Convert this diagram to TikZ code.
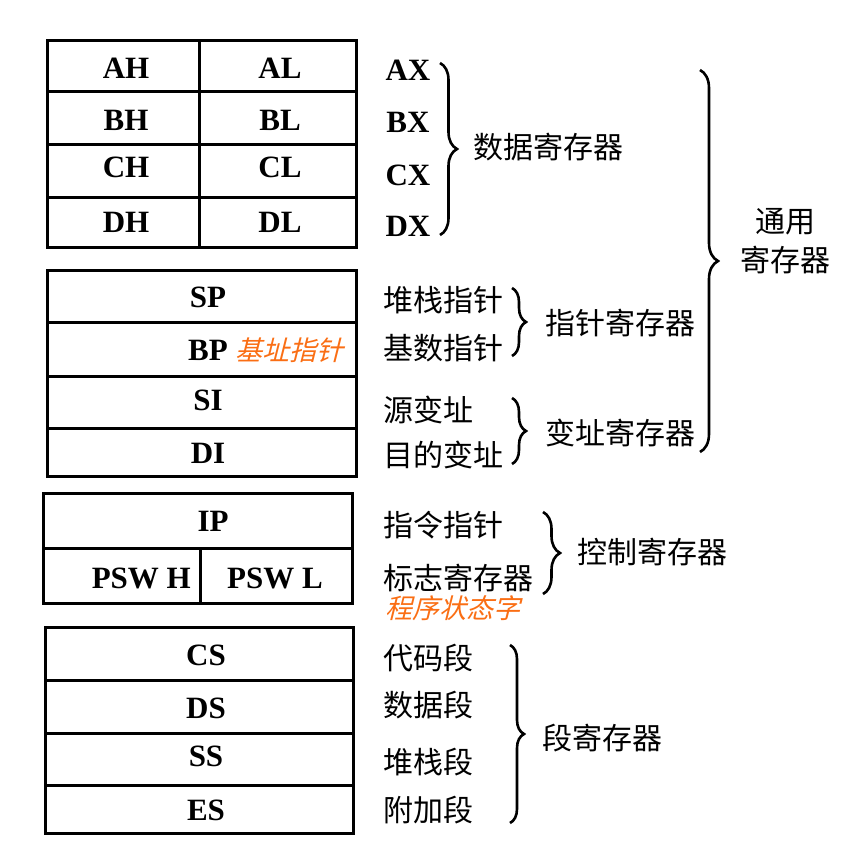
\documentclass[tikz,border=0pt]{standalone}
\usepackage{fontspec}
\setmainfont{Liberation Serif}
\newfontfamily\cjk{Noto Sans CJK SC}
\newfontfamily\cjkit{Noto Sans CJK SC}[FakeSlant=0.25]
\usetikzlibrary{decorations.pathreplacing}
\definecolor{noteorange}{RGB}{250,110,20}

\begin{document}
\begin{tikzpicture}[x=1pt, y=-1pt,
  reg/.style={font=\fontsize{31}{31}\selectfont\bfseries, inner sep=0pt},
  cn/.style={font=\cjk\fontsize{30}{30}\selectfont, inner sep=0pt},
  note/.style={font=\cjkit\fontsize{27}{27}\selectfont, text=noteorange, inner sep=0pt},
  box/.style={line width=3pt},
  curly/.style={decorate, decoration={brace, amplitude=#1}, line width=2.6pt},
  curly/.default=14pt]

\useasboundingbox (0,0) rectangle (852,865);

% Data registers
\draw[box] (47,40) rectangle (356,247);
\draw[box] (47,91) -- (356,91) (47,144) -- (356,144) (47,197) -- (356,197);
\draw[box] (199,40) -- (199,247);
\node[reg] (ah) at (126,68) {AH};
\node[reg] (al) at (280,68) {AL};
\node[reg] (bh) at (126,120) {BH};
\node[reg] (bl) at (280,120) {BL};
\node[reg] (ch) at (126,167) {CH};
\node[reg] (cl) at (280,167) {CL};
\node[reg] (dh) at (126,222) {DH};
\node[reg] (dl) at (280,222) {DL};
\node[reg] (ax) at (408,70) {AX};
\node[reg] (bx) at (408,122) {BX};
\node[reg] (cx) at (408,175) {CX};
\node[reg] (dx) at (408,226) {DX};

% Pointer and index registers
\draw[box] (47,270) rectangle (356,476);
\draw[box] (47,322) -- (356,322) (47,376) -- (356,376) (47,428) -- (356,428);
\node[reg] (sp) at (208,297) {SP};
\node[reg] (bp) at (208,350) {BP};
\node[note, anchor=west] (bpnote) at (235,350) {基址指针};
\node[reg] (si) at (208,400) {SI};
\node[reg] (di) at (208,453) {DI};
\node[cn, anchor=west] (spname) at (383,300) {堆栈指针};
\node[cn, anchor=west] (bpname) at (383,348) {基数指针};
\node[cn, anchor=west] (siname) at (383,410) {源变址};
\node[cn, anchor=west] (diname) at (383,455) {目的变址};

% Control registers
\draw[box] (43,493) rectangle (352,603);
\draw[box] (43,548) -- (352,548);
\draw[box] (200,548) -- (200,603);
\node[reg] (ip) at (213,521) {IP};
\node[reg, anchor=east] (pswh) at (191,578) {PSW H};
\node[reg] (pswl) at (275,578) {PSW L};
\node[cn, anchor=west] (ipname) at (383,525) {指令指针};
\node[cn, anchor=west] (flagname) at (383,578) {标志寄存器};
\node[note, anchor=west] (pswnote) at (385,608) {程序状态字};

% Segment registers
\draw[box] (45,627) rectangle (353,833);
\draw[box] (45,680) -- (353,680) (45,733) -- (353,733) (45,785) -- (353,785);
\node[reg] (cs) at (206,655) {CS};
\node[reg] (ds) at (206,708) {DS};
\node[reg] (ss) at (206,756) {SS};
\node[reg] (es) at (206,810) {ES};
\node[cn, anchor=west] (csname) at (383,658) {代码段};
\node[cn, anchor=west] (dsname) at (383,705) {数据段};
\node[cn, anchor=west] (ssname) at (383,762) {堆栈段};
\node[cn, anchor=west] (esname) at (383,810) {附加段};

% Group labels
\node[cn, anchor=west] (datagrp) at (473,147) {数据寄存器};
\node[cn, anchor=west] (ptrgrp) at (545,323) {指针寄存器};
\node[cn, anchor=west] (idxgrp) at (545,433) {变址寄存器};
\node[cn] (gen1) at (785,222) {通用};
\node[cn] (gen2) at (785,260) {寄存器};
\node[cn, anchor=west] (ctlgrp) at (577,552) {控制寄存器};
\node[cn, anchor=west] (seggrp) at (542,738) {段寄存器};

% Braces
\coordinate (datatop) at (440,63);
\coordinate (databot) at (440,235);
\coordinate (ptrtop) at (512,288);
\coordinate (ptrbot) at (512,356);
\coordinate (idxtop) at (512,398);
\coordinate (idxbot) at (512,464);
\coordinate (gentop) at (700,70);
\coordinate (genbot) at (700,452);
\coordinate (ctltop) at (543,512);
\coordinate (ctlbot) at (543,594);
\coordinate (segtop) at (510,645);
\coordinate (segbot) at (510,823);
\draw[curly=17pt] (datatop) -- (databot);
\draw[curly] (ptrtop) -- (ptrbot);
\draw[curly] (idxtop) -- (idxbot);
\draw[curly=18pt] (gentop) -- (genbot);
\draw[curly=17pt] (ctltop) -- (ctlbot);
\draw[curly] (segtop) -- (segbot);

\end{tikzpicture}
\end{document}
